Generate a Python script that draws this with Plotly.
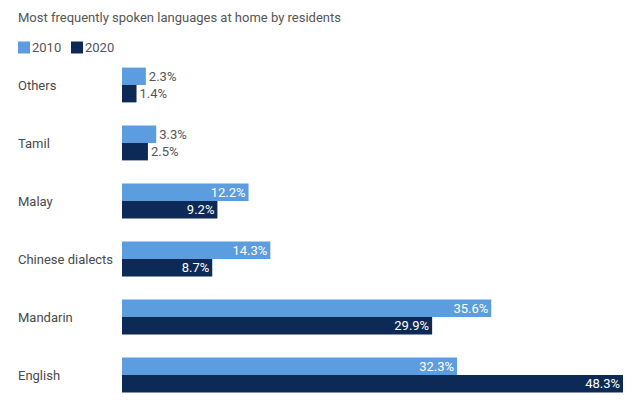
import plotly.graph_objects as go

categories = ["Others", "Tamil", "Malay", "Chinese dialects", "Mandarin", "English"]
values_2010 = [2.3, 3.3, 12.2, 14.3, 35.6, 32.3]
values_2020 = [1.4, 2.5, 9.2, 8.7, 29.9, 48.3]
series_names = ["2010", "2020"]
title_text = "Most frequently spoken languages at home by residents"

FONT = "Roboto"
C2010 = "#5b9ddf"
C2020 = "#0d2a57"
W, H = 640, 411
ML, MR, MT, MB = 122, 17, 56, 7
PW, PH = W - ML - MR, H - MT - MB

def px_x(p):
    return (p - ML) / PW

def px_y(p):
    return 1 - (p - MT) / PH

def positions(vals):
    return ["inside" if v >= 8 else "outside" for v in vals]

fig = go.Figure()
for name, vals, col in [(series_names[0], values_2010, C2010), (series_names[1], values_2020, C2020)]:
    fig.add_trace(go.Bar(
        y=categories, x=vals, name=name, orientation="h",
        marker=dict(color=col, line=dict(width=0)),
        text=[f"{v:.1f}%" for v in vals],
        textposition=positions(vals),
        insidetextanchor="end",
        insidetextfont=dict(family=FONT, size=13, color="white"),
        outsidetextfont=dict(family=FONT, size=13, color="#555555"),
        cliponaxis=False,
        constraintext="none",
        showlegend=False,
    ))

for c in categories:
    fig.add_annotation(x=px_x(18), xref="paper", y=c, yref="y", text=c,
                       showarrow=False, xanchor="left", xshift=-2,
                       font=dict(family=FONT, size=13, color="#4a4a4a"))

# legend (manual, to match the compact swatch spacing)
legend_items = [(series_names[0], C2010, 18), (series_names[1], C2020, 71)]
for name, col, x0 in legend_items:
    fig.add_shape(type="rect", xref="paper", yref="paper",
                  x0=px_x(x0), x1=px_x(x0 + 12), y0=px_y(53.5), y1=px_y(41.5),
                  fillcolor=col, line=dict(width=0))
    fig.add_annotation(x=px_x(x0 + 14), xref="paper", y=px_y(47.5), yref="paper",
                       text=name, showarrow=False, xanchor="left", yanchor="middle",
                       xshift=-2,
                       font=dict(family=FONT, size=13, color="#555555"))

fig.update_layout(
    width=W, height=H,
    margin=dict(l=ML, r=MR, t=MT, b=MB, autoexpand=False),
    paper_bgcolor="white", plot_bgcolor="white",
    barmode="group", bargap=0.4, bargroupgap=0.0,
    title=dict(text=title_text, x=18/W, xanchor="left", y=1-17/H, yanchor="middle",
               font=dict(family=FONT, size=13, color="#555555")),
    xaxis=dict(range=[0, 48.3], visible=False, fixedrange=True),
    yaxis=dict(autorange="reversed", showticklabels=False, showgrid=False,
               zeroline=False, showline=False, ticks="", fixedrange=True),
    showlegend=False,
)

fig.write_html("out.html", config={"displayModeBar": False},
               post_script="document.body.style.margin='0';")
